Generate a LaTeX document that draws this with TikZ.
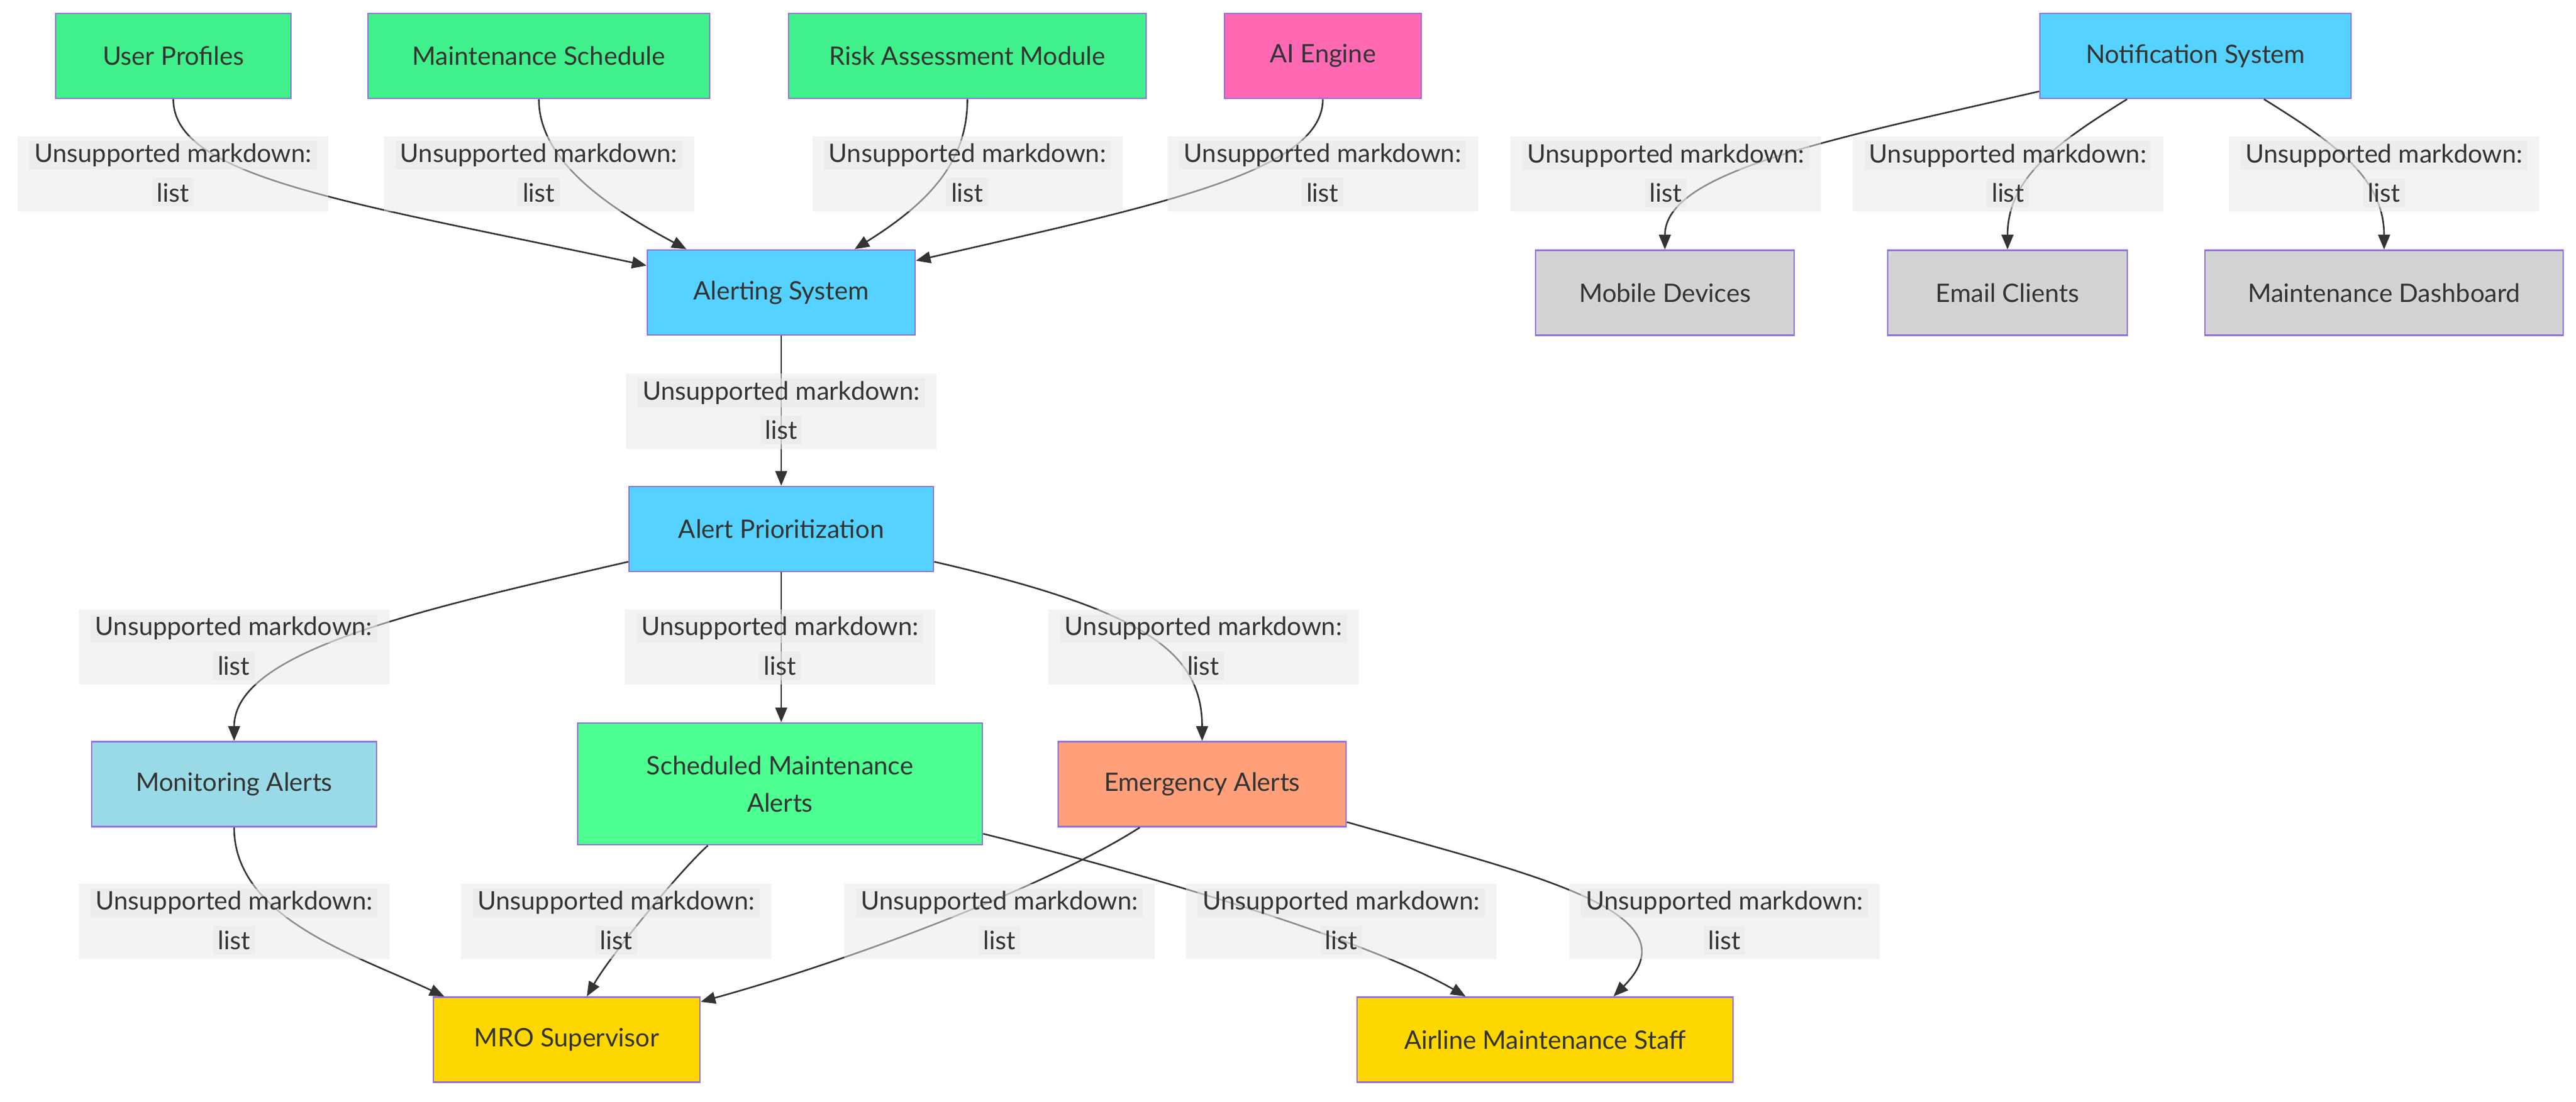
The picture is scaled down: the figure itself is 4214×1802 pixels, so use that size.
\documentclass[tikz,border=0pt]{standalone}
\usepackage{fontspec}
\setmainfont{Lato}
\usetikzlibrary{arrows.meta}
\definecolor{strokec}{HTML}{9370DB}
\definecolor{textc}{HTML}{333333}
\definecolor{edgec}{HTML}{333333}
\definecolor{lblc}{HTML}{E8E8E8}
\definecolor{greenA}{HTML}{40F08A}
\definecolor{greenB}{HTML}{4DFF91}
\definecolor{blueA}{HTML}{55D2FF}
\definecolor{blueB}{HTML}{99DAE6}
\definecolor{pinkA}{HTML}{FF69B4}
\definecolor{grayA}{HTML}{D3D3D3}
\definecolor{salmonA}{HTML}{FFA07A}
\definecolor{goldA}{HTML}{FFD700}
\tikzset{
  box/.style={draw=strokec, line width=0.65pt, text=textc, inner sep=0pt,
    minimum height=34.75pt, align=center, font=\fontsize{10.4}{15.25}\selectfont},
  lblbox/.style={fill=lblc, fill opacity=0.5, draw=none, minimum width=127pt,
    minimum height=30.75pt, inner sep=0pt},
  lblline/.style={fill=lblc, fill opacity=0.5, text opacity=1, text=textc,
    inner xsep=2pt, inner ysep=0pt, minimum height=11.75pt,
    font=\fontsize{10.4}{12.5}\selectfont},
  edge/.style={draw=edgec, line width=0.65pt, -{Triangle[length=6pt,width=4.8pt]}},
}
\newcommand\edgelbl[3]{%
  \node[lblbox] (#1) at (#2,#3) {};
  \node[lblline] (#1a) at ([yshift=7.625pt]#1.center) {Unsupported markdown:};
  \node[lblline] (#1b) at ([yshift=-7.625pt]#1.center) {list};
}
\begin{document}
\begin{tikzpicture}[x=0.25pt,y=0.25pt]
\fill[white] (0,0) rectangle (4214,1802);
\useasboundingbox (0,0) rectangle (4214,1802);

% nodes
\node[box, fill=greenA, minimum width=96.25pt] (up) at (283.5,1710.5) {User Profiles};
\node[box, fill=greenA, minimum width=139.75pt] (ms) at (881.5,1710.5) {Maintenance Schedule};
\node[box, fill=greenA, minimum width=146.25pt] (ram) at (1582.5,1710.5) {Risk Assessment Module};
\node[box, fill=pinkA, minimum width=80.5pt] (ai) at (2164,1710.5) {AI Engine};
\node[box, fill=blueA, minimum width=127.25pt] (ns) at (3591.5,1710.5) {Notification System};
\node[box, fill=blueA, minimum width=109.5pt] (as) at (1278,1323.5) {Alerting System};
\node[box, fill=grayA, minimum width=105.75pt] (md) at (2723.5,1323) {Mobile Devices};
\node[box, fill=grayA, minimum width=98pt] (ec) at (3284,1323) {Email Clients};
\node[box, fill=grayA, minimum width=146.5pt] (dash) at (3900,1323) {Maintenance Dashboard};
\node[box, fill=blueA, minimum width=124.5pt] (ap) at (1278,936.5) {Alert Prioritization};
\node[box, fill=blueB, minimum width=116.5pt] (mon) at (383,519) {Monitoring Alerts};
\node[box, fill=greenB, minimum width=165.5pt, minimum height=49.75pt] (sch) at (1276,519.5) {Scheduled Maintenance\\Alerts};
\node[box, fill=salmonA, minimum width=117.75pt] (em) at (1966.5,519) {Emergency Alerts};
\node[box, fill=goldA, minimum width=109pt] (mro) at (927,101) {MRO Supervisor};
\node[box, fill=goldA, minimum width=153.75pt] (air) at (2527.5,101) {Airline Maintenance Staff};

% connectors
\draw[edge] (up.south) to[out=-90,in=168,out distance=32pt,in distance=125pt] ([yshift=11pt]as.west);
\draw[edge] (ms.south) to[out=-90,in=152,out distance=25pt,in distance=37pt] ([xshift=-38.75pt]as.north);
\draw[edge] (ram.south) to[out=-90,in=32,out distance=25pt,in distance=37pt] ([xshift=30pt]as.north);
\draw[edge] (ai.south) to[out=-90,in=13,out distance=30pt,in distance=100pt] ([yshift=13pt]as.east);
\draw[edge] ([yshift=-14.5pt]ns.west) to[out=193,in=90,out distance=87pt,in distance=32pt] (md.north);
\draw[edge] ([xshift=-28pt]ns.south) to[out=212,in=90,out distance=32pt,in distance=30pt] (ec.north);
\draw[edge] ([xshift=28pt]ns.south) to[out=-32,in=90,out distance=32pt,in distance=30pt] (dash.north);
\draw[edge] (as.south) -- (ap.north);
\draw[edge] ([yshift=-13.4pt]ap.west) to[out=193,in=90,out distance=87pt,in distance=37pt] (mon.north);
\draw[edge] (ap.south) -- (ap.south |- sch.north);
\draw[edge] ([yshift=-13.4pt]ap.east) to[out=-13,in=90,out distance=87pt,in distance=37pt] (em.north);
\draw[edge] (mon.south) to[out=-90,in=155,out distance=37pt,in distance=40pt] ([xshift=4.75pt]mro.north west);
\draw[edge] ([xshift=-29.5pt]sch.south) to[out=222,in=60,out distance=15pt,in distance=20pt] ([xshift=8.25pt]mro.north);
\draw[edge] ([xshift=-25.5pt]em.south) to[out=213,in=15.5,out distance=37pt,in distance=75pt] ([yshift=15.5pt]mro.east);
\draw[edge] ([yshift=-20.4pt]sch.east) to[out=-14,in=150,out distance=90pt,in distance=40pt] ([xshift=-32.5pt]air.north);
\draw[edge] ([yshift=-15.5pt]em.east) to[out=-16,in=45,out distance=75pt,in distance=50pt] ([xshift=28pt]air.north);

% edge labels
\edgelbl{la}{283}{1517.5}
\edgelbl{lb}{881.5}{1517.5}
\edgelbl{lc}{1582.5}{1517.5}
\edgelbl{ld}{2163.5}{1517.5}
\edgelbl{le}{2725}{1517}
\edgelbl{lf}{3284.5}{1517}
\edgelbl{lg}{3900}{1517}
\edgelbl{lh}{1278}{1129}
\edgelbl{li}{382.5}{743.5}
\edgelbl{lj}{1276}{743.5}
\edgelbl{lk}{1968.5}{743.5}
\edgelbl{ll}{383}{294.5}
\edgelbl{lm}{1008}{294.5}
\edgelbl{ln}{1635}{294.5}
\edgelbl{lo}{2194}{294.5}
\edgelbl{lp}{2821}{294.5}
\end{tikzpicture}
\end{document}
